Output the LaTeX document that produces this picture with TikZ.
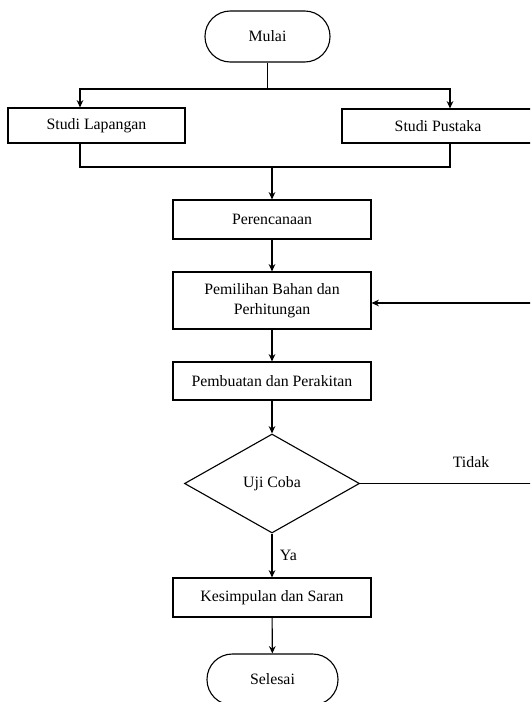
\documentclass[tikz,border=0pt]{standalone}
\usepackage{fontspec}
\setmainfont{Liberation Serif}
\usetikzlibrary{arrows.meta,shapes.geometric}

\begin{document}
\begin{tikzpicture}[x=0.03cm,y=-0.03cm,>={Stealth[length=2.2mm,width=2mm]},
  font=\fontsize{13.5}{17.5}\selectfont,line width=0.95pt,
  box/.style={draw,rectangle,inner sep=0pt,minimum width=5.94cm,align=center},
  term/.style={draw,rectangle,rounded corners=0.76cm,inner sep=0pt,minimum height=1.53cm}]
\useasboundingbox (0,0) rectangle (530,702);
\clip (0,0) rectangle (530,702);
% terminals and process boxes
\node[term,minimum width=3.75cm] (mulai) at (267.5,36.5) {Mulai};
\node[box,minimum width=5.31cm,minimum height=1.05cm] (lap) at (96.5,125.5) {Studi Lapangan};
\node[box,minimum width=5.76cm,minimum height=1.02cm] (pus) at (438,126) {Studi Pustaka};
\node[box,minimum height=1.17cm] (per) at (272,219.5) {Perencanaan};
\node[box,minimum height=1.71cm] (pem) at (272,300.5) {Pemilihan Bahan dan\\Perhitungan};
\node[box,minimum height=1.14cm] (buat) at (272,381) {Pembuatan dan Perakitan};
\node[draw,diamond,aspect=1.77,inner sep=0pt,minimum width=5.25cm,minimum height=2.97cm] (uji) at (272,483.5) {Uji Coba};
\node[box,minimum height=1.17cm] (kes) at (272,597.5) {Kesimpulan dan Saran};
\node[term,minimum width=3.93cm] (sel) at (272.5,679.5) {Selesai};
\node (tidak) at (471,462) {Tidak};
% branch points
\coordinate (split) at (267.5,89);
\coordinate (lapin) at (80,89);
\coordinate (pusin) at (450,89);
\coordinate (join) at (272,167);
\coordinate (back) at (545,303);
% connectors
\draw (mulai) -- (split);
\draw[->] (split) -- (lapin) -- (lapin |- lap.north);
\draw[->] (split) -- (pusin) -- (pusin |- pus.north);
\draw (lapin |- lap.south) -- (lapin |- join) -- (pusin |- join) -- (pusin |- pus.south);
\draw[->] (join) -- (per);
\draw[->] (per) -- (pem);
\draw[->] (pem) -- (buat);
\draw[->] (buat) -- (uji);
\draw[->] (uji) -- node[right=3pt] (ya) {Ya} (kes);
\draw[->] (kes) -- (sel);
\draw[->] (uji.east) -- (uji.east -| back) -- (back) -- (back -| pem.east);
\end{tikzpicture}
\end{document}
